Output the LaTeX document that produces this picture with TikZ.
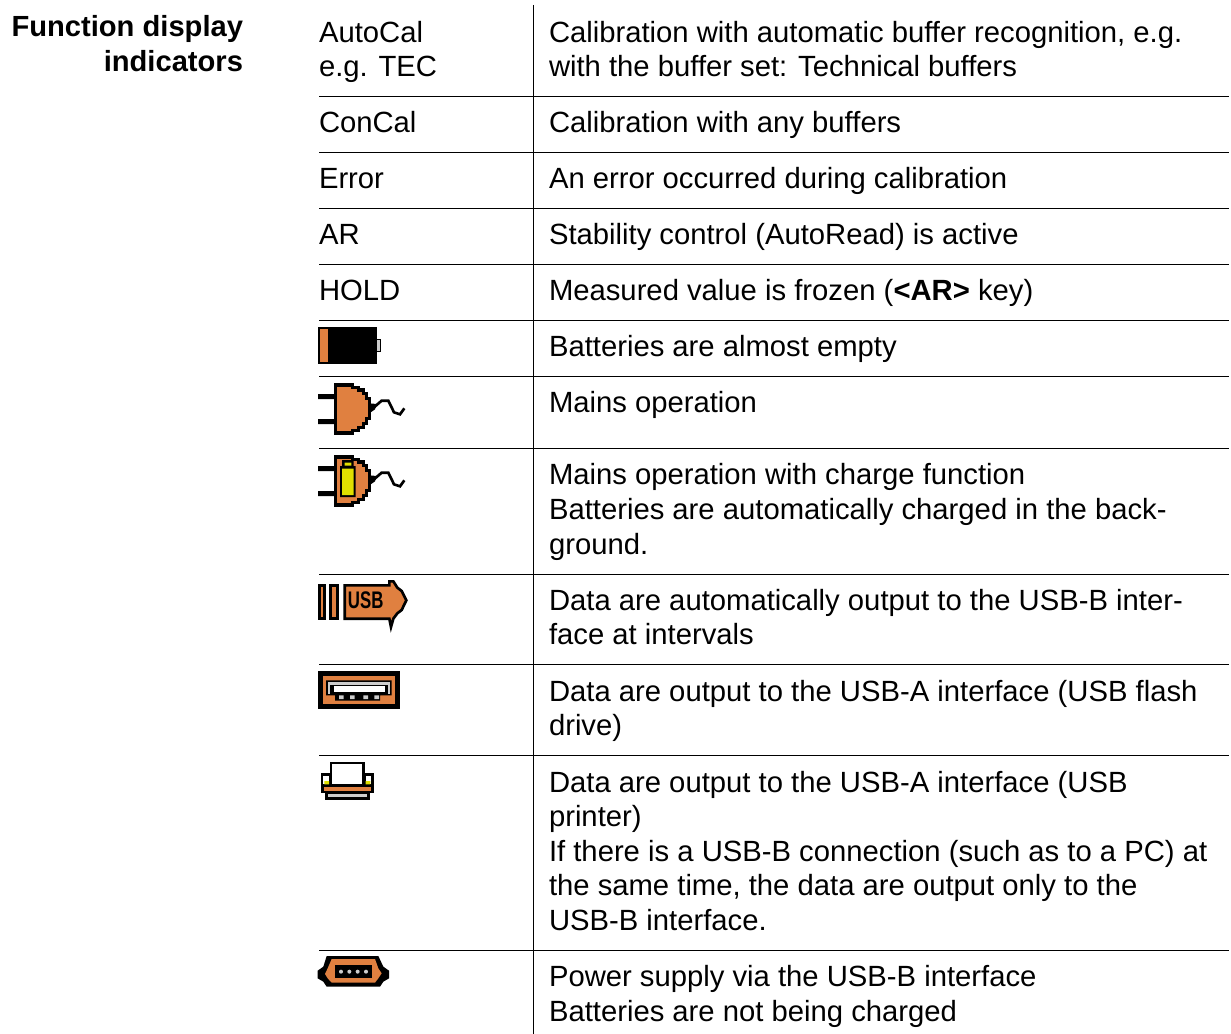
\documentclass[tikz,border=0pt]{standalone}
\usepackage{fontspec}
\setmainfont[Ligatures=NoCommon]{Liberation Sans}
\definecolor{iconorange}{RGB}{224,128,64}
\definecolor{iconyellow}{RGB}{224,224,0}
\definecolor{icongray}{RGB}{205,205,205}
\tikzset{
  txt/.style={anchor=base west,inner sep=0pt,outer sep=0pt,font=\fontsize{21.93pt}{26pt}\selectfont,text=black},
  head/.style={anchor=base east,inner sep=0pt,outer sep=0pt,font=\fontsize{21.85pt}{26pt}\selectfont\bfseries,text=black},
  rulex/.style={draw=black,line width=0.75pt},
  ico/.style={draw=black,line join=miter},
  icon/.style={x=0.25pt,y=-0.25pt}
}
\newcommand{\plugbody}{%
  \fill[black] (24,222) rectangle (75,237) (24,297) rectangle (75,312);
  \draw[ico,fill=iconorange,line width=2.3pt] (77,195) -- (128,195) -- (128,202) -- (146,202) -- (146,210) -- (161,210) -- (161,220) -- (170,220) -- (170,235) -- (178,235) -- (178,295) -- (170,295) -- (170,310) -- (161,310) -- (161,322) -- (146,322) -- (146,331) -- (128,331) -- (128,339) -- (77,339) -- cycle;
  \fill[black] (178,250) -- (200,252) -- (195,268) -- (178,280) -- cycle;
  \draw[black,line width=2pt] (185,268) -- (215,242) -- (235,242) -- (252,277) -- (270,283) -- (283,265);
}
\begin{document}
\begin{tikzpicture}[x=0.75pt,y=-0.75pt]
\useasboundingbox (0,0) rectangle (1231,1034);
\fill[white] (0,0) rectangle (1231,1034);
% heading
\node[head] (h1) at (243,36.5) {Function display};
\node[head] (h2) at (243,71.5) {indicators};
% rules
\draw[rulex] (533.5,5) -- (533.5,1034);
\foreach \yy in {96.5,152.5,208.5,264.5,320.5,376.5,448.5,574.5,664.5,755.5,950.5}
  \draw[rulex] (319,\yy) -- (1229,\yy);
% left column
\node[txt] (l1) at (319,42.5) {AutoCal};
\node[txt] (l2) at (319,76.5) {e.g. TEC};
\node[txt] (l3) at (319,132.5) {ConCal};
\node[txt] (l4) at (319,188.5) {Error};
\node[txt] (l5) at (319,244.5) {AR};
\node[txt] (l6) at (319,300.5) {HOLD};
% right column
\node[txt] (r1) at (549,42.5) {Calibration with automatic buffer recognition, e.g.};
\node[txt] (r2) at (549,76.5) {with the buffer set: Technical buffers};
\node[txt] (r3) at (549,132.5) {Calibration with any buffers};
\node[txt] (r4) at (549,188.5) {An error occurred during calibration};
\node[txt] (r5) at (549,244.5) {Stability control (AutoRead) is active};
\node[txt] (r6) at (549,300.5) {Measured value is frozen (\textbf{<AR>} key)};
\node[txt] (r7) at (549,356) {Batteries are almost empty};
\node[txt] (r8) at (549,412) {Mains operation};
\node[txt] (r9) at (549,484) {Mains operation with charge function};
\node[txt] (r10) at (549,519) {Batteries are automatically charged in the back-};
\node[txt] (r11) at (549,554) {ground.};
\node[txt] (r12) at (549,610) {Data are automatically output to the USB-B inter-};
\node[txt] (r13) at (549,644) {face at intervals};
\node[txt] (r14) at (549,701) {Data are output to the USB-A interface (USB flash};
\node[txt] (r15) at (549,735) {drive)};
\node[txt] (r16) at (549,792) {Data are output to the USB-A interface (USB};
\node[txt] (r17) at (549,826) {printer)};
\node[txt] (r18) at (549,861) {If there is a USB-B connection (such as to a PC) at};
\node[txt] (r19) at (549,895) {the same time, the data are output only to the};
\node[txt] (r20) at (549,930) {USB-B interface.};
\node[txt] (r21) at (549,986) {Power supply via the USB-B interface};
\node[txt] (r22) at (549,1021) {Batteries are not being charged};
% battery icon
\begin{scope}[shift={(310,320)},icon]
  \fill[black] (24,21) rectangle (200,131);
  \fill[iconorange] (30,27) rectangle (53,126);
  \draw[black,fill=icongray,line width=1.2pt] (199,58) rectangle (211,94);
\end{scope}
% plug icon
\begin{scope}[shift={(310,320)},icon]
  \plugbody
\end{scope}
% plug with charge icon
\begin{scope}[shift={(310,392)},icon]
  \plugbody
  \fill[black] (96,204) rectangle (131,224) (90,222) rectangle (137,315);
  \fill[iconyellow] (104,212) rectangle (124,221) (96,230) rectangle (131,309);
\end{scope}
% USB arrow icon
\begin{scope}[shift={(310,575)},icon]
  \draw[ico,fill=iconorange,line width=2pt] (28,31) rectangle (43,131) (62,31) rectangle (83,131);
  \draw[ico,fill=iconorange,line width=2pt] (104,31) -- (238,31) -- (238,19) -- (250,19) -- (262,38) -- (275,48) -- (289,76) -- (275,105) -- (262,115) -- (250,131) -- (243,156) -- (238,131) -- (104,131) -- cycle;
  \node[inner sep=0pt,font=\fontsize{18pt}{18pt}\selectfont\bfseries,text=black,xscale=0.7] (usbtxt) at (167,75) {USB};
\end{scope}
% USB-A icon
\begin{scope}[shift={(310,575)},icon]
  \fill[black] (24,288) rectangle (270,402);
  \fill[iconorange] (39,304) rectangle (255,387);
  \fill[black] (48,316) rectangle (245,361) (75,361) rectangle (210,377);
  \fill[icongray] (53,321) rectangle (240,357);
  \fill[black] (61,329) rectangle (233,357);
  \fill[white] (73,334) rectangle (225,352);
  \fill[icongray] (87,361) rectangle (101,372) (120,361) rectangle (134,372) (160,361) rectangle (174,372) (193,361) rectangle (207,372);
\end{scope}
% printer icon
\begin{scope}[shift={(310,755)},icon]
  \draw[ico,fill=white,line width=2pt] (63,24) rectangle (161,92);
  \draw[ico,fill=white,line width=2pt] (36,58) rectangle (60,92);
  \draw[ico,fill=white,line width=2pt] (163,58) rectangle (187,92);
  \fill[iconyellow] (43,78) rectangle (57,88) (167,78) rectangle (181,88);
  \draw[ico,fill=iconorange,line width=2pt] (37,93) rectangle (187,111);
  \draw[ico,fill=icongray,line width=2pt] (50,114) rectangle (175,131);
\end{scope}
% mini USB icon
\begin{scope}[shift={(315,950)},icon]
  \fill[black] (35,18) -- (190,18) -- (205,50) -- (222,62) -- (222,85) -- (205,95) -- (195,110) -- (35,110) -- (25,95) -- (8,85) -- (8,62) -- (25,50) -- cycle;
  \fill[iconorange] (50,27) -- (180,27) -- (190,55) -- (200,70) -- (190,85) -- (180,98) -- (50,98) -- (38,85) -- (30,72) -- (38,55) -- cycle;
  \fill[black] (60,45) rectangle (172,85);
  \foreach \dx in {78,103,128,153} \fill[icongray] (\dx,65) circle[radius=6];
\end{scope}
\end{tikzpicture}
\end{document}
